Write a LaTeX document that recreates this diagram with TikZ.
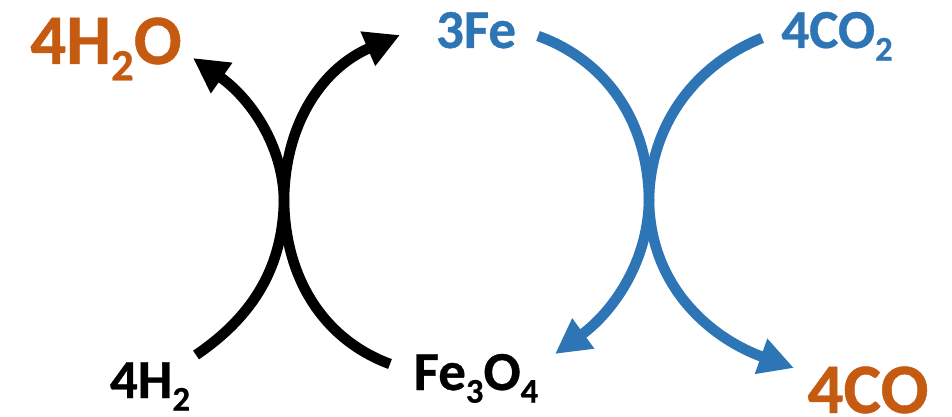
\documentclass[tikz,border=0pt]{standalone}
\usepackage{fontspec}
\setmainfont[BoldFeatures={FakeBold=0.6}]{Carlito}
\usetikzlibrary{arrows.meta}
\definecolor{rust}{HTML}{C55A11}
\definecolor{blu}{HTML}{2E75B6}
\newcommand\sbs[1]{\raisebox{-0.23em}{\scalebox{0.63}{#1}}}
\tikzset{
 lbl/.style={inner sep=0pt,font=\bfseries},
 big/.style={lbl,font=\bfseries\fontsize{71}{71}\selectfont,text=rust},
 mid/.style={lbl,font=\bfseries\fontsize{55}{55}\selectfont},
 arc/.style={line width=10.5pt},
 tip/.style={-{Triangle[length=35pt,width=35pt]}},
}
\begin{document}
\begin{tikzpicture}[x=1pt,y=-1pt]
\useasboundingbox (0,0) rectangle (952,417);
\node[big,anchor=base] (w) at (106,64) {4H\sbs{2}O};
\node[mid,text=blu,anchor=base] (fe) at (476,48) {3Fe};
\node[mid,text=blu,anchor=base] (co2) at (837,48) {4CO\sbs{2}};
\node[mid,anchor=base] (h2) at (150,398) {4H\sbs{2}};
\node[mid,anchor=base] (feo) at (476,390) {Fe\sbs{3}O\sbs{4}};
\node[big,anchor=base] (co) at (868,413) {4CO};
\coordinate (a1) at (196,355);
\coordinate (a2) at (400,35);
\coordinate (b1) at (390,364);
\coordinate (b2) at (193,58);
\coordinate (c1) at (538,36);
\coordinate (c2) at (794,368);
\coordinate (d1) at (762,38);
\coordinate (d2) at (555,354);
\draw[arc,tip] (a1) .. controls (255,315) and (283,265) .. (284,200) .. controls (285,120) and (325,67) .. (a2);
\draw[arc,tip] (b1) .. controls (325,340) and (285,280) .. (284,200) .. controls (283,145) and (250,98) .. (b2);
\draw[arc,blu,tip] (c1) .. controls (605,60) and (648,120) .. (649,200) .. controls (650,290) and (715,340) .. (c2);
\draw[arc,blu,tip] (d1) .. controls (695,65) and (650,125) .. (649,200) .. controls (648,265) and (610,314) .. (d2);
\end{tikzpicture}
\end{document}
